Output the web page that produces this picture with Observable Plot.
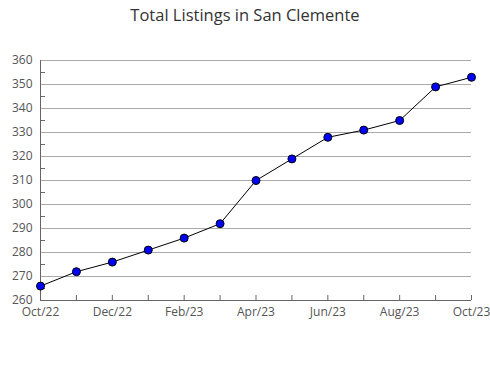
<!DOCTYPE html>
<html><head><meta charset="utf-8">
<script src="https://cdn.jsdelivr.net/npm/d3@7"></script>
<script src="https://cdn.jsdelivr.net/npm/@observablehq/plot@0.6"></script>
<style>
body{margin:0;background:#fff;font-family:"Open Sans",sans-serif;}
#wrap{position:relative;width:490px;height:380px;}
#title{position:absolute;top:3px;left:0;width:490px;text-align:center;font-size:16.5px;color:#333;}
</style></head><body>
<div id="wrap"><div id="title">Total Listings in San Clemente</div><div id="chart"></div></div>
<script>
const months = ["Oct/22","Nov/22","Dec/22","Jan/23","Feb/23","Mar/23","Apr/23","May/23","Jun/23","Jul/23","Aug/23","Sep/23","Oct/23"];
const listings = [266,272,276,281,286,292,310,319,328,331,335,349,353];
const yTicks = [260,270,280,290,300,310,320,330,340,350,360];
const yMinor = [265,275,285,295,305,315,325,335,345,355];

const data = months.map((m,i)=>({i, m, v: listings[i]}));
const idx = months.map((m,i)=>i);
const labelIdx = idx.filter(i=>i%2===0);

const chart = Plot.plot({
  width: 490, height: 380,
  marginTop: 60, marginBottom: 80, marginLeft: 40, marginRight: 19,
  style: {fontFamily: '"Open Sans",sans-serif', fontSize: "12px", color: "#555", background: "transparent"},
  x: {type: "linear", domain: [0, 12]},
  y: {domain: [260, 360]},
  marks: [
    Plot.gridY(yTicks, {stroke: "#aaa", strokeOpacity: 1}),
    Plot.axisY(yMinor, {tickSize: 5, dx: 5, text: null, stroke: "#666", label: null}),
    Plot.axisY(yTicks, {tickSize: 0, tickPadding: 8, label: null, fill: "#555"}),
    Plot.axisX(idx, {tickSize: 5, dy: -5, text: null, stroke: "#666", label: null}),
    Plot.axisX(labelIdx, {tickSize: 0, tickPadding: 7, tickFormat: i => months[i], label: null, fill: "#555"}),
    Plot.ruleX([0], {stroke: "#666"}),
    Plot.ruleY([260], {stroke: "#666"}),
    Plot.line(data, {x: "i", y: "v", stroke: "#000", strokeWidth: 1}),
    Plot.dot(data, {x: "i", y: "v", r: 4, fill: "#0000ff", stroke: "#000", strokeWidth: 1})
  ]
});
document.getElementById("chart").appendChild(chart);
</script></body></html>
